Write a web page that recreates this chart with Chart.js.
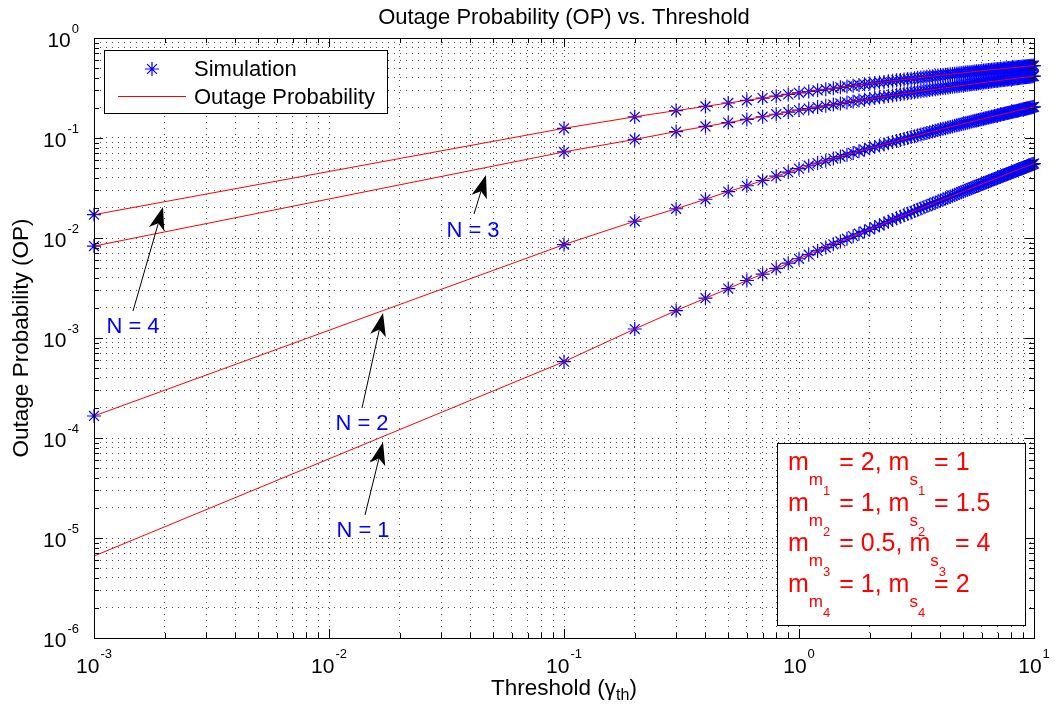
<!DOCTYPE html>
<html>
<head>
<meta charset="utf-8">
<title>Outage Probability (OP) vs. Threshold</title>
<script src="https://cdn.jsdelivr.net/npm/chart.js@4.4.1/dist/chart.umd.min.js"></script>
<style>
  html, body { margin: 0; padding: 0; background: #fff; }
  #wrap { width: 1055px; height: 714px; }
</style>
</head>
<body>
<div id="wrap"><canvas id="opChart" width="1055" height="714"></canvas></div>
<script>
// threshold values (gamma_th) where OP was evaluated / simulated
const thresholds = [0.001,
  0.1, 0.2, 0.3, 0.4, 0.5, 0.6, 0.7, 0.8, 0.9, 1,
  1.1, 1.2, 1.3, 1.4, 1.5, 1.6, 1.7, 1.8, 1.9, 2,
  2.1, 2.2, 2.3, 2.4, 2.5, 2.6, 2.7, 2.8, 2.9, 3,
  3.1, 3.2, 3.3, 3.4, 3.5, 3.6, 3.7, 3.8, 3.9, 4,
  4.1, 4.2, 4.3, 4.4, 4.5, 4.6, 4.7, 4.8, 4.9, 5,
  5.1, 5.2, 5.3, 5.4, 5.5, 5.6, 5.7, 5.8, 5.9, 6,
  6.1, 6.2, 6.3, 6.4, 6.5, 6.6, 6.7, 6.8, 6.9, 7,
  7.1, 7.2, 7.3, 7.4, 7.5, 7.6, 7.7, 7.8, 7.9, 8,
  8.1, 8.2, 8.3, 8.4, 8.5, 8.6, 8.7, 8.8, 8.9, 9,
  9.1, 9.2, 9.3, 9.4, 9.5, 9.6, 9.7, 9.8, 9.9, 10];

// OP, N = 1..4
const opN1 = [6.6e-6,
  0.00058, 0.00123, 0.00188, 0.00250, 0.00312, 0.00376, 0.00435, 0.00498, 0.00560, 0.00620,
  0.00681, 0.00742, 0.00803, 0.00864, 0.00924, 0.00984, 0.01044, 0.01103, 0.01163, 0.01222,
  0.01281, 0.01340, 0.01398, 0.01457, 0.01515, 0.01573, 0.01631, 0.01688, 0.01746, 0.01803,
  0.01861, 0.01918, 0.01975, 0.02032, 0.02088, 0.02145, 0.02201, 0.02257, 0.02313, 0.02369,
  0.02425, 0.02481, 0.02536, 0.02592, 0.02647, 0.02703, 0.02758, 0.02813, 0.02868, 0.02922,
  0.02977, 0.03032, 0.03086, 0.03141, 0.03195, 0.03249, 0.03304, 0.03358, 0.03412, 0.03466,
  0.03519, 0.03573, 0.03627, 0.03680, 0.03734, 0.03787, 0.03840, 0.03893, 0.03946, 0.03999,
  0.04052, 0.04105, 0.04157, 0.04210, 0.04262, 0.04314, 0.04367, 0.04419, 0.04471, 0.04523,
  0.04575, 0.04627, 0.04679, 0.04731, 0.04783, 0.04835, 0.04886, 0.04938, 0.04989, 0.05041,
  0.05092, 0.05143, 0.05194, 0.05246, 0.05296, 0.05348, 0.05399, 0.05449, 0.05500, 0.05551];

const opN2 = [1.66e-4,
  0.0086, 0.0147, 0.0196, 0.0244, 0.0291, 0.0333, 0.0376, 0.0415, 0.0455, 0.0494,
  0.0528, 0.0561, 0.0592, 0.0623, 0.0652, 0.0681, 0.0709, 0.0736, 0.0763, 0.0789,
  0.0814, 0.0839, 0.0863, 0.0887, 0.0911, 0.0933, 0.0956, 0.0978, 0.1000, 0.1021,
  0.1042, 0.1063, 0.1083, 0.1103, 0.1123, 0.1142, 0.1161, 0.1180, 0.1199, 0.1217,
  0.1236, 0.1254, 0.1271, 0.1289, 0.1306, 0.1323, 0.1340, 0.1357, 0.1373, 0.1390,
  0.1406, 0.1422, 0.1438, 0.1453, 0.1469, 0.1484, 0.1500, 0.1515, 0.1530, 0.1544,
  0.1559, 0.1573, 0.1588, 0.1602, 0.1616, 0.1630, 0.1644, 0.1658, 0.1672, 0.1685,
  0.1699, 0.1712, 0.1725, 0.1738, 0.1751, 0.1764, 0.1777, 0.1790, 0.1803, 0.1815,
  0.1828, 0.1840, 0.1852, 0.1865, 0.1877, 0.1889, 0.1901, 0.1913, 0.1924, 0.1936,
  0.1948, 0.1959, 0.1971, 0.1982, 0.1994, 0.2005, 0.2016, 0.2027, 0.2038, 0.2049];

const opN3 = [0.0083,
  0.0726, 0.0968, 0.1160, 0.1305, 0.1428, 0.1535, 0.1632, 0.1728, 0.1818, 0.1900,
  0.1971, 0.2038, 0.2101, 0.2161, 0.2218, 0.2271, 0.2323, 0.2372, 0.2419, 0.2464,
  0.2508, 0.2549, 0.2590, 0.2629, 0.2667, 0.2704, 0.2740, 0.2774, 0.2808, 0.2841,
  0.2873, 0.2904, 0.2934, 0.2964, 0.2993, 0.3022, 0.3049, 0.3076, 0.3103, 0.3129,
  0.3154, 0.3180, 0.3204, 0.3228, 0.3252, 0.3275, 0.3298, 0.3320, 0.3342, 0.3364,
  0.3386, 0.3407, 0.3427, 0.3448, 0.3468, 0.3487, 0.3507, 0.3526, 0.3545, 0.3564,
  0.3583, 0.3601, 0.3619, 0.3636, 0.3654, 0.3671, 0.3688, 0.3705, 0.3722, 0.3738,
  0.3754, 0.3770, 0.3786, 0.3802, 0.3817, 0.3832, 0.3848, 0.3863, 0.3877, 0.3892,
  0.3907, 0.3921, 0.3936, 0.3950, 0.3964, 0.3978, 0.3991, 0.4005, 0.4018, 0.4031,
  0.4044, 0.4057, 0.4070, 0.4083, 0.4096, 0.4108, 0.4121, 0.4133, 0.4145, 0.4157];

const opN4 = [0.0171,
  0.125, 0.163, 0.188, 0.207, 0.224, 0.238, 0.251, 0.262, 0.273, 0.283,
  0.2917, 0.2998, 0.3073, 0.3144, 0.3211, 0.3274, 0.3334, 0.3391, 0.3445, 0.3498,
  0.3547, 0.3595, 0.3641, 0.3686, 0.3729, 0.3770, 0.3811, 0.3849, 0.3887, 0.3923,
  0.3958, 0.3993, 0.4026, 0.4059, 0.4091, 0.4122, 0.4152, 0.4182, 0.4211, 0.4239,
  0.4266, 0.4293, 0.4320, 0.4345, 0.4371, 0.4396, 0.4420, 0.4444, 0.4467, 0.4490,
  0.4513, 0.4535, 0.4557, 0.4578, 0.4599, 0.4620, 0.4640, 0.4660, 0.4680, 0.4699,
  0.4718, 0.4737, 0.4756, 0.4774, 0.4792, 0.4810, 0.4828, 0.4845, 0.4862, 0.4879,
  0.4895, 0.4912, 0.4928, 0.4944, 0.4960, 0.4975, 0.4990, 0.5006, 0.5021, 0.5036,
  0.5050, 0.5065, 0.5079, 0.5093, 0.5107, 0.5121, 0.5135, 0.5148, 0.5162, 0.5175,
  0.5188, 0.5201, 0.5214, 0.5227, 0.5239, 0.5252, 0.5264, 0.5276, 0.5288, 0.5300];

// simulation markers sit on the analytical curves; N = 1 has no marker at 1e-3
const simN1 = [null].concat(opN1.slice(1));
const simN2 = opN2;
const simN3 = opN3;
const simN4 = opN4;

const xDecades = [-3, -2, -1, 0, 1];
const yDecades = [-6, -5, -4, -3, -2, -1, 0];

const FONT = '"Liberation Sans", Arial, Helvetica, sans-serif';
const BLUE = '#0000ff';
const RED = '#ff0000';

function decadeTicks(decs) {
  const out = [];
  for (let i = 0; i < decs.length - 1; i++) {
    for (let m = 1; m <= 9; m++) out.push({ value: Number(m + 'e' + decs[i]) });
  }
  out.push({ value: Number('1e' + decs[decs.length - 1]) });
  return out;
}

function isDecade(v) {
  const l = Math.log10(v);
  return Math.abs(l - Math.round(l)) < 1e-9;
}

function star(c, x, y, r) {
  const d = r * Math.SQRT1_2;
  c.beginPath();
  c.moveTo(x - r, y); c.lineTo(x + r, y);
  c.moveTo(x, y - r); c.lineTo(x, y + r);
  c.moveTo(x - d, y - d); c.lineTo(x + d, y + d);
  c.moveTo(x - d, y + d); c.lineTo(x + d, y - d);
  c.stroke();
}

function arrow(c, x0, y0, x1, y1) {
  const ang = Math.atan2(y1 - y0, x1 - x0);
  const ux = Math.cos(ang), uy = Math.sin(ang);
  const L = 23, W = 8, notch = 6;
  const bx = x1 - ux * L, by = y1 - uy * L;
  const nx = x1 - ux * (L - notch), ny = y1 - uy * (L - notch);
  c.beginPath(); c.moveTo(x0, y0); c.lineTo(nx, ny); c.stroke();
  c.beginPath();
  c.moveTo(x1, y1);
  c.lineTo(bx - uy * W, by + ux * W);
  c.lineTo(nx, ny);
  c.lineTo(bx + uy * W, by - ux * W);
  c.closePath();
  c.fill();
}

// text with nested subscripts: parts = [text, size, drop, extra gap after]
function richText(c, x, base, parts) {
  parts.forEach(p => {
    c.font = p[1] + 'px ' + FONT;
    c.fillText(p[0], x, base + p[2]);
    x += c.measureText(p[0]).width + (p[3] || 0);
  });
}

function powLabel(c, e) {
  c.font = '21px ' + FONT;
  const wb = c.measureText('10').width;
  c.font = '13px ' + FONT;
  const we = c.measureText(String(e)).width;
  return { wb: wb, we: we, w: wb + we + 1 };
}

const decor = {
  id: 'decor',
  beforeDraw(chart) {
    const c = chart.ctx;
    c.save();
    c.fillStyle = '#fff';
    c.fillRect(0, 0, chart.width, chart.height);
    c.restore();
  },
  afterDraw(chart) {
    const c = chart.ctx, a = chart.chartArea;
    const xs = chart.scales.x, ys = chart.scales.y;
    c.save();

    // legend
    c.fillStyle = '#fff';
    c.fillRect(104, 50, 283, 63);
    c.strokeStyle = '#000'; c.lineWidth = 1;
    c.strokeRect(104.5, 50.5, 283, 63);
    c.strokeStyle = BLUE; c.lineWidth = 1.2;
    star(c, 152, 69, 7);
    c.lineWidth = 1;
    c.strokeStyle = RED;
    c.beginPath(); c.moveTo(118, 96.5); c.lineTo(186, 96.5); c.stroke();
    c.fillStyle = '#000';
    c.font = '22px ' + FONT;
    c.textAlign = 'left'; c.textBaseline = 'alphabetic';
    c.fillText('Simulation', 194, 76);
    c.fillText('Outage Probability', 194, 104);

    // parameter box
    c.fillStyle = '#fff';
    c.fillRect(777, 443, 248, 182);
    c.strokeStyle = '#000';
    c.strokeRect(777.5, 443.5, 248, 182);
    c.fillStyle = RED;
    const rows = [['1', '= 2, m', '= 1'], ['2', '= 1, m', '= 1.5'],
                  ['3', '= 0.5, m', '= 4'], ['4', '= 1, m', '= 2']];
    rows.forEach((r, i) => {
      richText(c, 788, 470 + i * 40.5, [
        ['m', 25, 0], ['m', 17, 15], [r[0], 13, 25, 9],
        [r[1], 25, 0], ['s', 17, 15], [r[0], 13, 25, 9], [r[2], 25, 0]]);
    });

    // arrows and N labels
    c.fillStyle = '#000'; c.strokeStyle = '#000'; c.lineWidth = 1;
    arrow(c, 133, 311, 163, 207);
    arrow(c, 474, 214, 486, 175);
    arrow(c, 362, 408, 383, 313);
    arrow(c, 365, 515, 383, 442);
    c.fillStyle = BLUE;
    c.font = '22px ' + FONT;
    c.textAlign = 'center';
    c.fillText('N = 4', 133, 333);
    c.fillText('N = 3', 473, 237);
    c.fillText('N = 2', 362, 430);
    c.fillText('N = 1', 363, 537);

    // frame with inward ticks on all sides
    c.strokeStyle = '#000'; c.lineWidth = 1;
    c.beginPath();
    xs.ticks.forEach(t => {
      const px = Math.round(xs.getPixelForValue(t.value)) + 0.5;
      const len = isDecade(t.value) ? 9 : 5;
      c.moveTo(px, a.bottom); c.lineTo(px, a.bottom - len);
      c.moveTo(px, a.top); c.lineTo(px, a.top + len);
    });
    ys.ticks.forEach(t => {
      const py = Math.round(ys.getPixelForValue(t.value)) + 0.5;
      const len = isDecade(t.value) ? 9 : 5;
      c.moveTo(a.left, py); c.lineTo(a.left + len, py);
      c.moveTo(a.right, py); c.lineTo(a.right - len, py);
    });
    c.stroke();
    c.strokeRect(Math.round(a.left) + 0.5, Math.round(a.top) + 0.5,
                 Math.round(a.right - a.left), Math.round(a.bottom - a.top));

    // tick labels 10^e
    c.fillStyle = '#000';
    c.textAlign = 'left'; c.textBaseline = 'alphabetic';
    xDecades.forEach(e => {
      const px = xs.getPixelForValue(Math.pow(10, e));
      const m = powLabel(c, e);
      const x0 = px - m.w / 2;
      c.font = '21px ' + FONT; c.fillText('10', x0, a.bottom + 35);
      c.font = '13px ' + FONT; c.fillText(String(e), x0 + m.wb + 1, a.bottom + 20);
    });
    yDecades.forEach(e => {
      const py = ys.getPixelForValue(Math.pow(10, e));
      const m = powLabel(c, e);
      const x0 = 79 - m.w;
      c.font = '21px ' + FONT; c.fillText('10', x0, py + 8.5);
      c.font = '13px ' + FONT; c.fillText(String(e), x0 + m.wb + 1, py - 5);
    });

    // title and axis labels
    const cx = (a.left + a.right) / 2;
    c.textAlign = 'center';
    c.font = '22px ' + FONT;
    c.fillText('Outage Probability (OP) vs. Threshold', cx, 24);

    c.font = '22.5px ' + FONT;
    const t1 = 'Threshold (\u03b3', t2 = 'th', t3 = ')';
    const w1 = c.measureText(t1).width, w3 = c.measureText(t3).width;
    c.font = '16px ' + FONT;
    const w2 = c.measureText(t2).width;
    const lx = cx - (w1 + w2 + w3) / 2;
    c.textAlign = 'left';
    c.font = '22.5px ' + FONT; c.fillText(t1, lx, a.bottom + 57);
    c.font = '16px ' + FONT; c.fillText(t2, lx + w1, a.bottom + 62);
    c.font = '22.5px ' + FONT; c.fillText(t3, lx + w1 + w2, a.bottom + 57);

    c.translate(22, (a.top + a.bottom) / 2);
    c.rotate(-Math.PI / 2);
    c.textAlign = 'center'; c.textBaseline = 'middle';
    c.fillText('Outage Probability (OP)', 0, 0);
    c.restore();
  }
};

const lineSets = [opN1, opN2, opN3, opN4].map(d => ({
  label: 'Outage Probability',
  data: d,
  borderColor: RED,
  borderWidth: 1,
  pointRadius: 0,
  fill: false,
  tension: 0,
  order: 0
}));

const simSets = [simN1, simN2, simN3, simN4].map(d => ({
  label: 'Simulation',
  data: d,
  showLine: false,
  pointStyle: 'star',
  pointRadius: 7,
  pointHoverRadius: 7,
  pointBorderWidth: 1.2,
  pointBorderColor: BLUE,
  pointBackgroundColor: BLUE,
  clip: false,
  order: 1
}));

const gridStyle = { color: 'rgba(0,0,0,0.7)', lineWidth: 1, drawTicks: false };

new Chart(document.getElementById('opChart').getContext('2d'), {
  type: 'line',
  data: { labels: thresholds, datasets: simSets.concat(lineSets) },
  options: {
    responsive: false,
    animation: false,
    devicePixelRatio: 1,
    events: [],
    layout: { padding: { left: 94, right: 21, top: 38, bottom: 76 } },
    plugins: { legend: { display: false }, tooltip: { enabled: false } },
    scales: {
      x: {
        type: 'logarithmic', min: 1e-3, max: 10,
        ticks: { display: false },
        grid: gridStyle,
        border: { display: false, dash: [1, 5] },
        afterBuildTicks: s => { s.ticks = decadeTicks(xDecades); }
      },
      y: {
        type: 'logarithmic', min: 1e-6, max: 1,
        ticks: { display: false },
        grid: gridStyle,
        border: { display: false, dash: [1, 5] },
        afterBuildTicks: s => { s.ticks = decadeTicks(yDecades); }
      }
    }
  },
  plugins: [decor]
});
</script>
</body>
</html>
